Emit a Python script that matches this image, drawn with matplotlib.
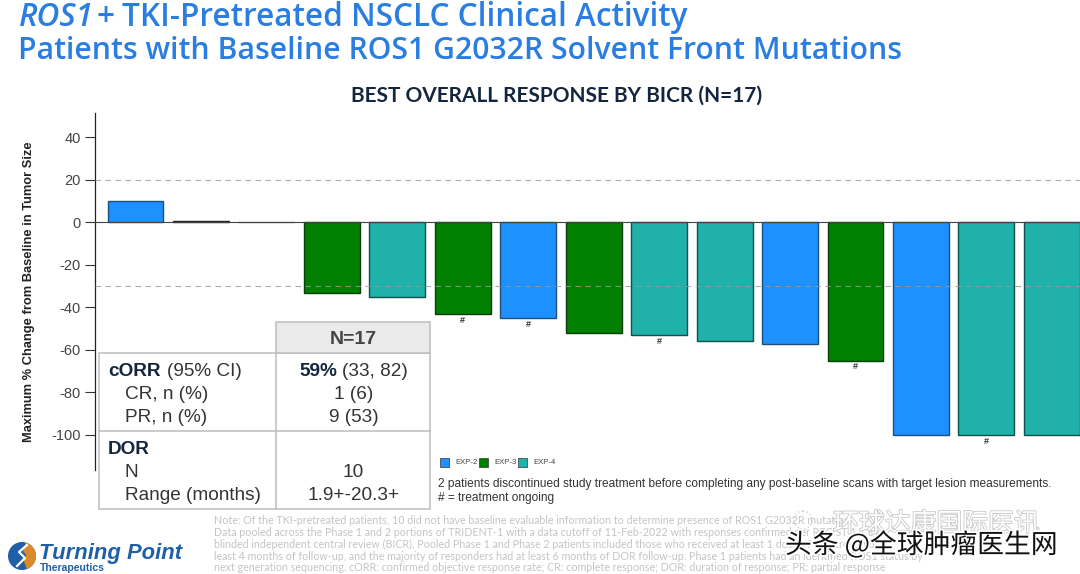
#!/usr/bin/python3

import matplotlib
matplotlib.use("Agg")
import matplotlib.pyplot as plt
import matplotlib.patheffects as pe
from matplotlib.patches import Rectangle, Circle, Wedge

#bars, left to right
change = [10, 0.6, 0.2, -33, -35, -43, -45, -52, -53, -56, -57, -65, -100, -100, -100]
arm = ["EXP-2", "EXP-2", "EXP-2", "EXP-3", "EXP-4", "EXP-3", "EXP-2", "EXP-3", "EXP-4",
       "EXP-4", "EXP-2", "EXP-3", "EXP-2", "EXP-4", "EXP-4"]
ongoing = [5, 6, 8, 11, 13]

arm_names = ["EXP-2", "EXP-3", "EXP-4"]
arm_colors = ["#1E90FF", "#007F00", "#20B2AA"]
arm_edges = ["#1B4F7F", "#0B3D0B", "#10504C"]

yticks = [40, 20, 0, -20, -40, -60, -80, -100]
ref_lines = [20, -30]

table_left = ["cORR", "CR, n (%)", "PR, n (%)", "DOR", "N", "Range (months)"]
table_right = ["59%", "1 (6)", "9 (53)", "", "10", "1.9+-20.3+"]

note = ["Note: Of the TKI-pretreated patients, 10 did not have baseline evaluable information to determine presence of ROS1 G2032R mutation.",
        "Data pooled across the Phase 1 and 2 portions of TRIDENT-1 with a data cutoff of 11-Feb-2022 with responses confirmed per RECIST 1.1 by",
        "blinded independent central review (BICR). Pooled Phase 1 and Phase 2 patients included those who received at least 1 dose of repotrectinib,",
        "least 4 months of follow-up, and the majority of responders had at least 6 months of DOR follow-up. Phase 1 patients had an identified ROS1 status by",
        "next generation sequencing. cORR: confirmed objective response rate; CR: complete response; DOR: duration of response; PR: partial response"]

W, H = 1080, 574
BLUE = "#2A7DE1"
NAVY = "#14263F"
TXT = "#333333"

plt.rcParams["font.family"] = ["Liberation Sans", "DejaVu Sans"]
plt.rcParams["axes.unicode_minus"] = False
CJK = ["Noto Sans CJK SC", "DejaVu Sans"]

#_____________________________________________________________________________
def main():

    fig = plt.figure(figsize=(W/100, H/100), dpi=100)
    fig.patch.set_facecolor("white")

    #overlay in pixel coordinates for the slide furniture
    pg = fig.add_axes([0, 0, 1, 1], zorder=5)
    pg.set_xlim(0, W)
    pg.set_ylim(H, 0)
    pg.axis("off")
    pg.patch.set_alpha(0)

    make_chart(fig)
    make_titles(pg)
    make_table(pg)
    make_legend(pg)
    make_footer(pg)

    fig.savefig("out.png", dpi=100)

#main

#_____________________________________________________________________________
def make_chart(fig):

    ax = fig.add_axes([95/W, 1-470/H, (W-95)/W, 357/H])

    col = [arm_colors[arm_names.index(a)] for a in arm]
    edg = [arm_edges[arm_names.index(a)] for a in arm]
    edg[1] = "#222222"
    edg[2] = "#777777"
    ax.bar(range(len(change)), change, width=0.855, color=col, edgecolor=edg, linewidth=1.0, zorder=2)

    #dashes sit faintly over the bars
    for y in ref_lines:
        ax.axhline(y, color="#999999", alpha=0.8, lw=0.8, ls=(0, (5, 4)), zorder=4)
    ax.axhline(0, color="#444444", lw=0.8, zorder=3)

    for i in ongoing:
        ax.text(i, change[i]-3, "#", ha="center", va="center", fontsize=6.5, fontweight="bold", color="#333333")

    ax.set_xlim(-0.619, 14.43)
    ax.set_ylim(-116.5, 51.5)
    ax.set_yticks(yticks)
    ax.set_xticks([])
    ax.tick_params(axis="y", labelsize=10.5, labelcolor="#444444", color="#333333", length=7, width=0.8, pad=3)
    for s in ["top", "right", "bottom"]:
        ax.spines[s].set_visible(False)
    ax.spines["left"].set_linewidth(0.9)
    ax.spines["left"].set_color("#222222")

    fig.text(29.5/W, 1-291.5/H, "Maximum % Change from Baseline in Tumor Size", rotation=90, ha="center", va="center",
             fontsize=9.3, fontweight="bold", color="#222222")

#make_chart

#_____________________________________________________________________________
def make_titles(pg):

    ttl = dict(color=BLUE, family="Open Sans", fontweight="semibold", va="center")
    pg.text(19, 17, "ROS1", style="italic", fontsize=22.7, **ttl)
    pg.text(96, 17, "+", fontsize=22.7, **ttl)
    pg.text(122, 17, "TKI-Pretreated NSCLC Clinical Activity", fontsize=22.7, **ttl)
    pg.text(18, 51, "Patients with Baseline ROS1 G2032R Solvent Front Mutations", fontsize=21.7, **ttl)
    pg.text(556.5, 96, "BEST OVERALL RESPONSE BY BICR (N=17)", color=NAVY, fontsize=15, family="Lato",
            fontweight="bold", ha="center", va="center")

#make_titles

#_____________________________________________________________________________
def make_table(pg):

    line = "#BDBDBD"
    pg.add_patch(Rectangle((99, 353), 331, 156, fc="white", ec=line, lw=1.1))
    pg.add_patch(Rectangle((276, 322), 154, 31, fc="#EAEAEA", ec=line, lw=1.1))
    pg.plot([276, 276], [353, 509], color=line, lw=1.1)
    pg.plot([99, 430], [431, 431], color=line, lw=1.1)

    pg.text(353.5, 339.5, "N=17", fontsize=14, fontweight="bold", color="#444444", ha="center", va="center")

    rows = [371.5, 394.5, 417.5, 449, 472.5, 495.5]
    for i, y in enumerate(rows):
        name = table_left[i]
        bold = name in ("cORR", "DOR")
        pg.text(108 if bold else 125, y, name, fontsize=13.7, color=NAVY if bold else TXT,
                fontweight="bold" if bold else "normal", va="center")
        if table_right[i] and i > 0:
            pg.text(353.5, y, table_right[i], fontsize=13.7, color=TXT, ha="center", va="center")

    pg.text(167, 371.5, "(95% CI)", fontsize=13.7, color=TXT, va="center")
    pg.text(299.5, 371.5, table_right[0], fontsize=13.7, color=NAVY, fontweight="bold", va="center")
    pg.text(342, 371.5, "(33, 82)", fontsize=13.7, color=TXT, va="center")

#make_table

#_____________________________________________________________________________
def make_legend(pg):

    x = [440, 479, 518]
    for i, nam in enumerate(arm_names):
        pg.add_patch(Rectangle((x[i], 457.5), 9, 9, fc=arm_colors[i], ec="#333333", lw=0.5))
        pg.text(x[i]+15, 462.5, nam, fontsize=5.6, color="#444444", va="center")

    pg.text(438, 484.5, "2 patients discontinued study treatment before completing any post-baseline scans with target lesion measurements.",
            fontsize=8.6, color=TXT, va="center")
    pg.text(438, 498.5, "# = treatment ongoing", fontsize=8.6, color=TXT, va="center")

#make_legend

#_____________________________________________________________________________
def make_footer(pg):

    for i, s in enumerate(note):
        pg.text(214, 521+11.7*i, s, fontsize=7.7, color="#C4C4C4", family="Lato", va="center")

    #logo
    pg.add_patch(Circle((22, 556), 14, fc="#1F5FA8", ec="none"))
    pg.add_patch(Wedge((22, 556), 14, 285, 70, width=10, fc="#D98A2B", ec="none"))
    pg.plot([27, 19, 25, 17], [545, 552, 558, 566], color="white", lw=1.6)
    pg.text(39, 553.5, "Turning Point", fontsize=15.8, fontweight="bold", style="italic",
            color="#1F5FA8", va="center")
    pg.text(40, 568, "Therapeutics", fontsize=7.5, fontweight="bold", color="#1F5FA8", va="center")

    #watermark
    pg.add_patch(Circle((803, 520), 9, fc="none", ec="#D0D0D0", lw=1.0, ls=":"))
    ghost = [pe.withStroke(linewidth=1.2, foreground="#C8C8C8")]
    pg.text(833, 524, "环球达康国际医讯", fontsize=18.6, family=CJK, color="white", va="center", path_effects=ghost)
    halo = [pe.withStroke(linewidth=2.5, foreground="white")]
    pg.text(785, 545, "头条 @全球肿瘤医生网", fontsize=19.3, family=CJK, color="#111111", va="center", path_effects=halo)

#make_footer

#_____________________________________________________________________________
if __name__ == "__main__":

    main()
